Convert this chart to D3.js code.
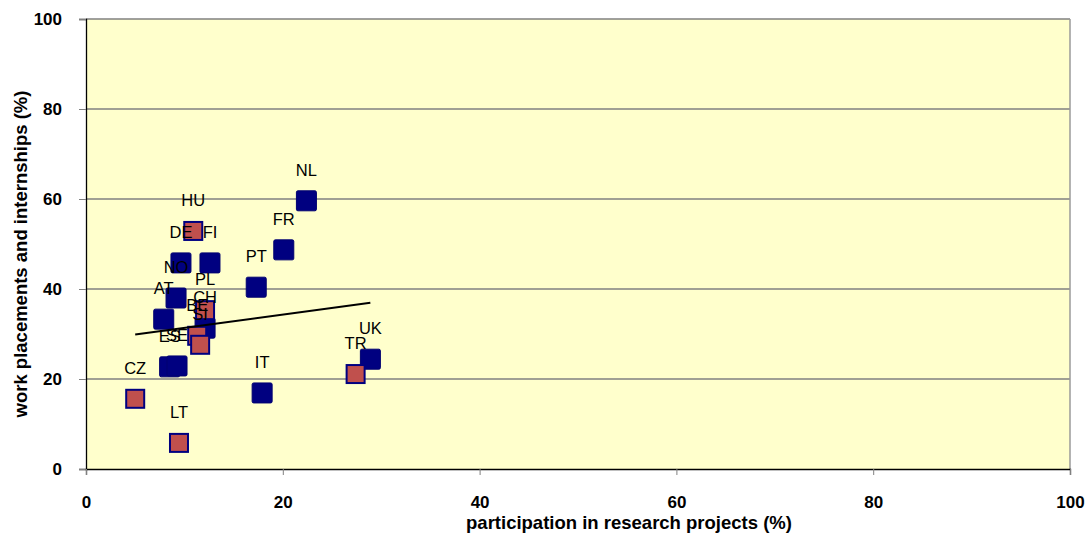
<!DOCTYPE html>
<html><head><meta charset="utf-8">
<script src="https://cdn.jsdelivr.net/npm/d3@7"></script>
<style>body{margin:0;background:#fff}svg{display:block;font-family:"Liberation Sans",Arial,sans-serif}</style>
</head><body><svg id="c" width="1092" height="533"></svg>
<script>
const blueNames = ["NL","FR","PT","IT","UK","DE","FI","NO","AT","CH","ES","SE"];
const blueX = [22.4,20.1,17.3,17.9,28.9,9.65,12.6,9.15,7.9,12.1,8.5,9.25];
const blueY = [59.6,48.7,40.4,16.9,24.4,45.8,45.8,38.0,33.3,31.3,22.7,22.9];
const redNames = ["HU","PL","BE","SI","CZ","LT","TR"];
const redX = [10.9,12.1,11.3,11.6,5.0,9.45,27.4];
const redY = [52.9,35.3,29.6,27.6,15.6,5.8,21.1];
const xTicks = [0,20,40,60,80,100];
const yTicks = [0,20,40,60,80,100];

const svg = d3.select("#c");
const L=86,R=1070,T=19,B=469;
const x = d3.scaleLinear().domain([0,100]).range([L,R]);
const y = d3.scaleLinear().domain([0,100]).range([B,T]);

svg.append("rect").attr("x",L).attr("y",T).attr("width",R-L).attr("height",B-T).attr("fill","#FFFFCC");
svg.append("g").selectAll("line").data(yTicks.filter(d=>d>0)).join("line")
 .attr("x1",L).attr("x2",R).attr("y1",d=>y(d)).attr("y2",d=>y(d)).attr("stroke","#808080").attr("stroke-width",1.3);
svg.append("line").attr("x1",R).attr("x2",R).attr("y1",T).attr("y2",B).attr("stroke","#9a9a9a").attr("stroke-width",1.5);

const ya = svg.append("g").attr("transform",`translate(${L},0)`).call(d3.axisLeft(y).tickValues(yTicks).tickSize(7).tickPadding(17));
const xa = svg.append("g").attr("transform",`translate(0,${B})`).call(d3.axisBottom(x).tickValues(xTicks).tickSize(6).tickPadding(21));
[ya,xa].forEach(a=>{a.select(".domain").attr("stroke","#000").attr("stroke-width",1.3);
 a.selectAll(".tick line").attr("stroke","#808080");
 a.selectAll("text").attr("font-size",17).attr("font-weight","bold").attr("fill","#000").attr("font-family","Liberation Sans, Arial, sans-serif");});

// trendline: linear regression over all points
const allX = blueX.concat(redX), allY = blueY.concat(redY);
const mx = d3.mean(allX), my = d3.mean(allY);
const slope = d3.sum(allX.map((v,i)=>(v-mx)*(allY[i]-my))) / d3.sum(allX.map(v=>(v-mx)*(v-mx)));
const icpt = my - slope*mx;
const x0 = d3.min(allX), x1 = d3.max(allX);

const S=20;
const blue = blueNames.map((n,i)=>({n,x:blueX[i],y:blueY[i]}));
const red = redNames.map((n,i)=>({n,x:redX[i],y:redY[i]}));
svg.append("g").selectAll("rect").data(blue).join("rect")
 .attr("x",d=>x(d.x)-S/2).attr("y",d=>y(d.y)-S/2).attr("width",S).attr("height",S).attr("rx",1.5)
 .attr("fill","#000080").attr("stroke","#000070").attr("stroke-width",1);
svg.append("g").selectAll("rect").data(red).join("rect")
 .attr("x",d=>x(d.x)-S/2+1).attr("y",d=>y(d.y)-S/2+1).attr("width",S-2).attr("height",S-2)
 .attr("fill","#C0504D").attr("stroke","#000080").attr("stroke-width",2);

svg.append("line").attr("x1",x(x0)).attr("y1",y(slope*x0+icpt)).attr("x2",x(x1)).attr("y2",y(slope*x1+icpt))
 .attr("stroke","#000").attr("stroke-width",2);

svg.append("g").selectAll("text").data(blue.concat(red)).join("text")
 .attr("x",d=>x(d.x)).attr("y",d=>y(d.y)-25).attr("text-anchor","middle").attr("font-size",16.5).attr("fill","#000")
 .text(d=>d.n);

svg.append("text").attr("x",629).attr("y",529).attr("text-anchor","middle").attr("font-size",18.5).attr("font-weight","bold").text("participation in research projects (%)");
svg.append("text").attr("transform",`translate(27,254) rotate(-90)`).attr("text-anchor","middle").attr("font-size",18.5).attr("font-weight","bold").text("work placements and internships (%)");
</script></body></html>
